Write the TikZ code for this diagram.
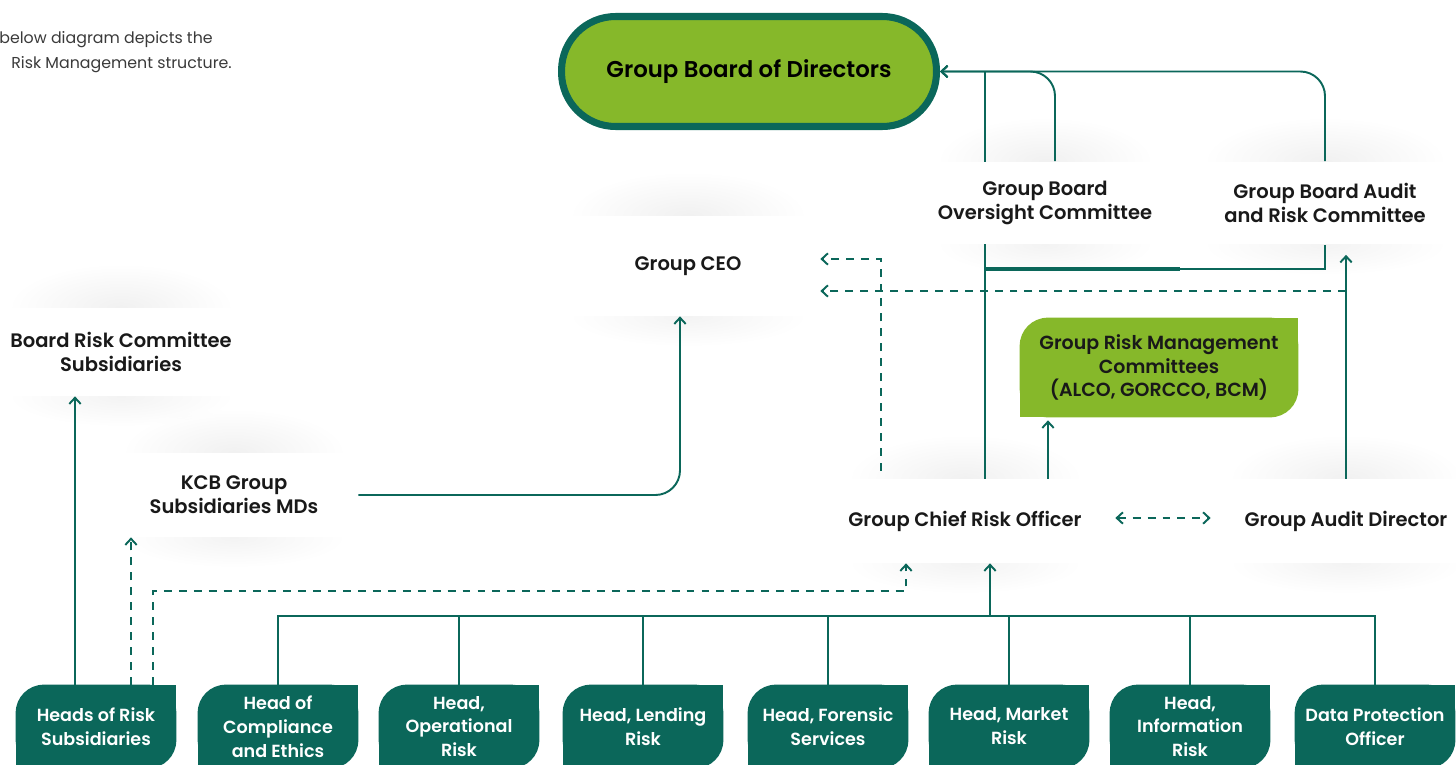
\documentclass[tikz,border=0pt]{standalone}
\usepackage{fontspec}
\setmainfont{Poppins}[UprightFont=* SemiBold, BoldFont=* Bold]
\newfontfamily\introfont{Poppins}
\usetikzlibrary{arrows.meta,calc,backgrounds,fadings}
\definecolor{kcbteal}{HTML}{0B675A}
\definecolor{kcblime}{HTML}{86B82A}
\definecolor{introgray}{HTML}{3A3A3A}
\tikzfading[name=softhump, inner color=transparent!20, outer color=transparent!100]

\begin{document}
\begin{tikzpicture}[
        x=0.02cm, y=-0.02cm, % pixel grid, y downwards
        >={Straight Barb[length=3.5pt,width=6.5pt]},
        conn/.style={draw=kcbteal, line width=1.1pt}, % solid connector
        dconn/.style={conn, dash pattern=on 4.5pt off 4pt}, % dashed connector
        intro/.style={anchor=west, inner sep=0pt, text=introgray, font=\introfont\fontsize{9}{14}\selectfont},
        board/.style={draw=kcbteal, line width=4pt, fill=kcblime, rounded corners=1.08cm,
                minimum width=7.5cm, minimum height=2.2cm, font=\fontsize{13}{14}\selectfont},
        wbox/.style={fill=white, align=center, text=black!90, font=\fontsize{11.1}{13.6}\selectfont}, % white boxes
        leaf/.style={align=center, text=white, minimum width=3.2cm, minimum height=1.66cm,
                font=\fontsize{10}{13.6}\selectfont}, % leaf shaped boxes
    ]

    \useasboundingbox (0,0) rectangle (1456,764);

    % intro text
    \node[intro] (introa) at (-1,40) {below diagram depicts the};
    \node[intro] (introb) at (11,65) {Risk Management structure.};

    % board and committees
    \node[board] (gbod) at (749,71.5) {Group Board of Directors};
    \node[wbox, minimum width=4.8cm, minimum height=1.66cm] (gboc) at (1045,203) {Group Board\\Oversight Committee};
    \node[wbox, minimum width=5.4cm, minimum height=1.66cm] (gbarc) at (1325,203) {Group Board Audit\\and Risk Committee};
    \node[wbox, minimum width=5.28cm, minimum height=2cm] (ceo) at (688,266) {Group CEO};
    \node[wbox, minimum width=5cm, minimum height=1.76cm] (brcs) at (121,352) {Board Risk Committee\\Subsidiaries};
    \node[wbox, minimum width=4.96cm, minimum height=1.68cm] (kcb) at (234,495) {KCB Group\\Subsidiaries MDs};
    \node[wbox, minimum width=5.2cm, minimum height=1.68cm] (cro) at (965,521) {Group Chief Risk Officer};
    \node[wbox, minimum width=5.2cm, minimum height=1.68cm] (gad) at (1346,521) {Group Audit Director};
    \node[leaf, text=black!90, minimum width=5.56cm, minimum height=1.98cm, font=\fontsize{10.8}{13.6}\selectfont] (grmc)
        at (1159,367.5) {Group Risk Management\\Committees\\(ALCO, GORCCO, BCM)};

    % heads
    \foreach \n/\x/\t in {h1/96/{Heads of Risk\\Subsidiaries}, h2/278/{Head of\\Compliance\\and Ethics},
            h3/459/{Head,\\Operational\\Risk}, h4/643/{Head, Lending\\Risk}, h5/828/{Head, Forensic\\Services},
            h6/1009/{Head, Market\\Risk}, h7/1190/{Head,\\Information\\Risk}, h8/1375/{Data Protection\\Officer}}
        \node[leaf] (\n) at (\x,726.5) {\t};

    \begin{scope}[on background layer]
        % soft shadows
        \foreach \n in {ceo,gboc,gbarc,brcs,kcb,cro,gad} {
            \fill[black!7, path fading=softhump] ($(\n.north west)!0.05!(\n.north east)+(0,-44)$)
                rectangle ($(\n.north east)!0.05!(\n.north west)+(0,44)$);
            \fill[black!6, path fading=softhump] ($(\n.south west)!0.05!(\n.south east)+(0,-30)$)
                rectangle ($(\n.south east)!0.05!(\n.south west)+(0,30)$);
        }
        % leaf shapes
        \foreach \n/\c in {h1/kcbteal,h2/kcbteal,h3/kcbteal,h4/kcbteal,h5/kcbteal,h6/kcbteal,h7/kcbteal,h8/kcbteal,grmc/kcblime} {
            \fill[\c, rounded corners=16pt] (\n.south west) rectangle (\n.north east);
            \fill[\c] (\n.north east) rectangle ([xshift=-17pt,yshift=-17pt]\n.north east);
            \fill[\c] (\n.south west) rectangle ([xshift=17pt,yshift=17pt]\n.south west);
        }

        % to the board
        \draw[conn,->] ($(cro.north)+(20,0)$) |- (gbod.east);
        \draw[conn,->,rounded corners=14pt] ($(gboc.north)+(10,0)$) |- (gbod.east);
        \draw[conn,->,rounded corners=14pt] (gbarc.north) |- (gbod.east);
        \coordinate (tj) at (985,269);
        \draw[conn] (gbarc.south) |- (tj);
        \draw[conn, line width=2.2pt] (tj) -- ++(195,0);

        % audit director
        \draw[conn,->,shorten >=0.2cm] (gad.north) -- (gad.north |- gbarc.south);
        \coordinate (lowdash) at (1346,291);
        \draw[dconn,->] (lowdash) -- (ceo.east |- lowdash);
        \draw[dconn,<->] ($(cro.east)+(20,-3)$) -- ($(gad.west)+(-5,-3)$);

        % chief risk officer
        \draw[dconn,->] ($(cro.north)+(-84,-8)$) |- ($(ceo.east)+(0,-7)$);
        \coordinate (crog) at ($(cro.north)+(83,0)$);
        \draw[conn,->,shorten >=0.06cm] (crog) -- (crog |- grmc.south);

        % heads bus
        \coordinate (bus) at (990,616);
        \foreach \i in {2,...,8}
            \draw[conn] (h\i.north) |- (bus);
        \draw[conn,->] (bus) -- (bus |- cro.south);

        % subsidiaries
        \coordinate (hl) at ($(h1.north)+(-21,0)$);
        \coordinate (hm) at ($(h1.north)+(35,0)$);
        \coordinate (hr) at ($(h1.north)+(57,0)$);
        \draw[conn,->] (hl) -- (hl |- brcs.south);
        \draw[dconn,->] (hm) -- (hm |- kcb.south);
        \coordinate (dj) at (906,591);
        \draw[dconn,->] (hr) |- (dj) -- (dj |- cro.south);
        \draw[conn,->,rounded corners=14pt] (kcb.east) -| ($(ceo.south)+(-8,0)$);
    \end{scope}

\end{tikzpicture}
\end{document}
